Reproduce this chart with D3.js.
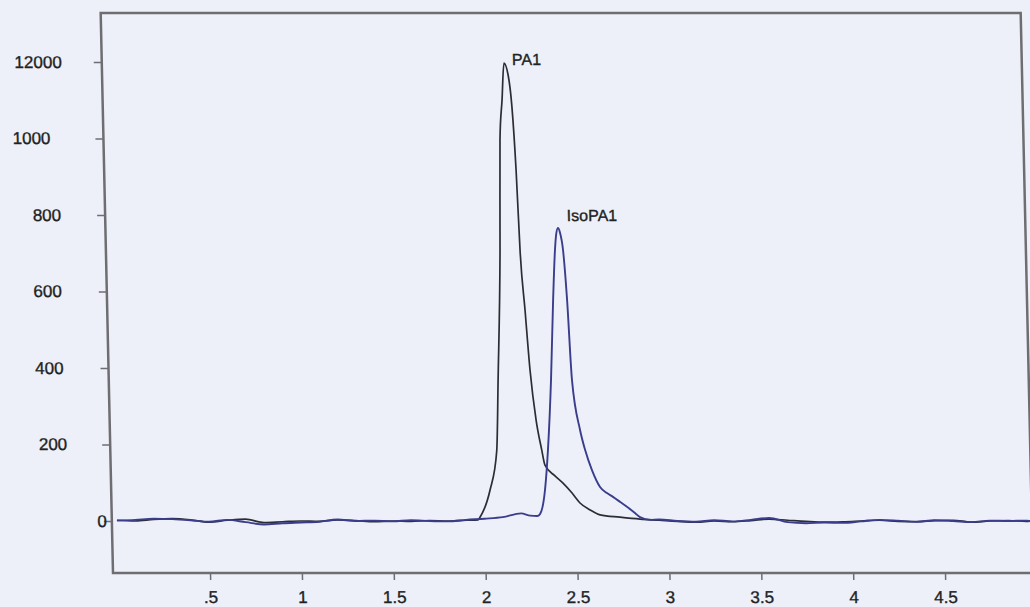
<!DOCTYPE html>
<html>
<head>
<meta charset="utf-8">
<script src="https://cdn.jsdelivr.net/npm/d3@7"></script>
<style>
  body { margin: 0; background: #edf0f8; }
  svg { display: block; }
  text { font-family: "Liberation Sans", Arial, sans-serif; fill: #222; stroke: #222; stroke-width: 0.35px; }
</style>
</head>
<body>
<svg id="chart"></svg>
<script>
        // Axis ticks (the top label really reads 12000 on the print)
        var yTickValues = [0, 200, 400, 600, 800, 1000, 1200];
        var yTickLabels = ["0", "200", "400", "600", "800", "1000", "12000"];
        var xTickValues = [0.5, 1, 1.5, 2, 2.5, 3, 3.5, 4, 4.5];
        var xTickLabels = [".5", "1", "1.5", "2", "2.5", "3", "3.5", "4", "4.5"];

        // PA1 trace (black)
        var paTime = [0, 0.1, 0.2, 0.3, 0.4, 0.5, 0.6, 0.7, 0.8, 0.9, 1.0, 1.1, 1.2, 1.3, 1.4, 1.5, 1.6, 1.7, 1.8, 1.9,
            1.965, 1.976, 2.034, 2.075, 2.091, 2.117, 2.130, 2.146, 2.161, 2.182, 2.199, 2.214, 2.226, 2.246, 2.266,
            2.293, 2.320, 2.336, 2.389, 2.432, 2.480, 2.522, 2.576, 2.630, 2.738, 2.847,
            2.95, 3.05, 3.15, 3.25, 3.35, 3.45, 3.55, 3.65, 3.75, 3.85, 3.95, 4.05, 4.15, 4.25, 4.35, 4.45, 4.55, 4.65, 4.75, 4.85, 4.95, 4.97];
        var paSignal = [2, 0, 4, 6, 3, -3, 2, 5, -4, -2, 0, -1, 3, 1, -2, 0, -1, 1, 0, 2,
            3, 10, 81, 183, 369, 708, 996, 1101, 1197, 1166, 1082, 917, 708, 551, 394,
            264, 186, 146, 118, 99, 73, 47, 29, 16, 10, 5,
            2, -1, -3, 0, -2, 1, 5, 2, -1, -3, -2, 0, 2, -1, -2, 1, 2, -3, 0, 1, -1, 0];

        // IsoPA1 trace (blue)
        var isoTime = [0, 0.1, 0.2, 0.3, 0.4, 0.5, 0.6, 0.7, 0.8, 0.9, 1.0, 1.1, 1.2, 1.3, 1.4, 1.5, 1.6, 1.7, 1.8, 1.9,
            2.0, 2.1, 2.2, 2.25, 2.287, 2.303, 2.333, 2.354, 2.379, 2.400, 2.416, 2.424, 2.435, 2.445, 2.460, 2.476,
            2.493, 2.531, 2.556, 2.591, 2.633, 2.670, 2.702, 2.740, 2.777, 2.820, 2.847, 2.901,
            2.95, 3.05, 3.15, 3.25, 3.35, 3.45, 3.55, 3.65, 3.75, 3.85, 3.95, 4.05, 4.15, 4.25, 4.35, 4.45, 4.55, 4.65, 4.75, 4.85, 4.95, 4.97];
        var isoSignal = [1, 3, 6, 5, 2, -2, 3, -3, -9, -6, -4, -2, 4, 0, 1, -1, 2, 0, -1, 3,
            6, 10, 20, 14, 13, 18, 81, 186, 369, 578, 708, 748, 766, 755, 708, 578,
            369, 238, 186, 133, 89, 73, 63, 50, 37, 21, 10, 3,
            4, 0, -2, 2, -1, 3, 8, -3, -6, -4, -5, -1, 3, 1, -2, 2, 0, -3, 1, 0, 1, 0];

        var peakNames = ["PA1", "IsoPA1"];

        var width = 1030;
        var height = 607;
        var frame = { left: 113, right: 1033, top: 13, bottom: 573 };
        var skew = 0.022;   // the print was photographed slightly slanted

        var svg = d3.select("#chart")
            .attr("width", width)
            .attr("height", height);

        var g = svg.append("g")
            .attr("transform", `translate(${-skew * frame.bottom},0) skewX(${Math.atan(skew) * 180 / Math.PI})`);

        var x = d3.scaleLinear().domain([0.5, 4.5]).range([210, 945]);
        var y = d3.scaleLinear().domain([0, 1200]).range([521, 62]);

        // Frame
        g.append("rect")
            .attr("x", frame.left)
            .attr("y", frame.top)
            .attr("width", frame.right - frame.left)
            .attr("height", frame.bottom - frame.top)
            .attr("fill", "none")
            .attr("stroke", "#6e6e72")
            .attr("stroke-width", 2.5);

        // Y axis, label ends as placed on the print
        var yLabelEnd = [108, 70, 68, 68, 69, 60, 73];
        var yAxis = g.append("g")
            .attr("transform", `translate(${frame.left},0)`)
            .call(d3.axisLeft(y).tickValues(yTickValues).tickSize(8)
                .tickFormat((d, i) => yTickLabels[i]));
        yAxis.select(".domain").remove();
        yAxis.selectAll("line").attr("stroke", "#6e6e72").attr("stroke-width", 1.5);
        yAxis.selectAll("text")
            .attr("x", (d, i) => yLabelEnd[i] - frame.left)
            .style("font-size", "17px")
            .style("font-family", "'Liberation Sans', Arial, sans-serif");

        // X axis
        var xAxis = g.append("g")
            .attr("transform", `translate(0,${frame.bottom})`)
            .call(d3.axisBottom(x).tickValues(xTickValues).tickSize(7).tickPadding(11)
                .tickFormat((d, i) => xTickLabels[i]));
        xAxis.select(".domain").remove();
        xAxis.selectAll("line").attr("stroke", "#6e6e72").attr("stroke-width", 1.5);
        xAxis.selectAll("text")
            .style("font-size", "17px")
            .style("font-family", "'Liberation Sans', Arial, sans-serif");

        // Traces
        var line = d3.line().x(d => x(d[0])).y(d => y(d[1])).curve(d3.curveMonotoneX);
        var series = [
            { name: peakNames[0], data: d3.zip(paTime, paSignal), color: "#2c2c34", width: 1.7, dx: 8, dy: 2 },
            { name: peakNames[1], data: d3.zip(isoTime, isoSignal), color: "#3a3d8c", width: 1.9, dx: 9, dy: -7 }
        ];

        series.forEach(function(s) {
            g.append("path")
                .attr("d", line(s.data))
                .attr("fill", "none")
                .attr("stroke", s.color)
                .attr("stroke-width", s.width)
                .attr("stroke-linejoin", "round");
        });

        // Peak labels next to each apex
        series.forEach(function(s) {
            var top = s.data[d3.maxIndex(s.data, d => d[1])];
            g.append("text")
                .attr("x", x(top[0]) + s.dx)
                .attr("y", y(top[1]) + s.dy)
                .style("font-size", "16px")
                .text(s.name);
        });
</script>
</body>
</html>
